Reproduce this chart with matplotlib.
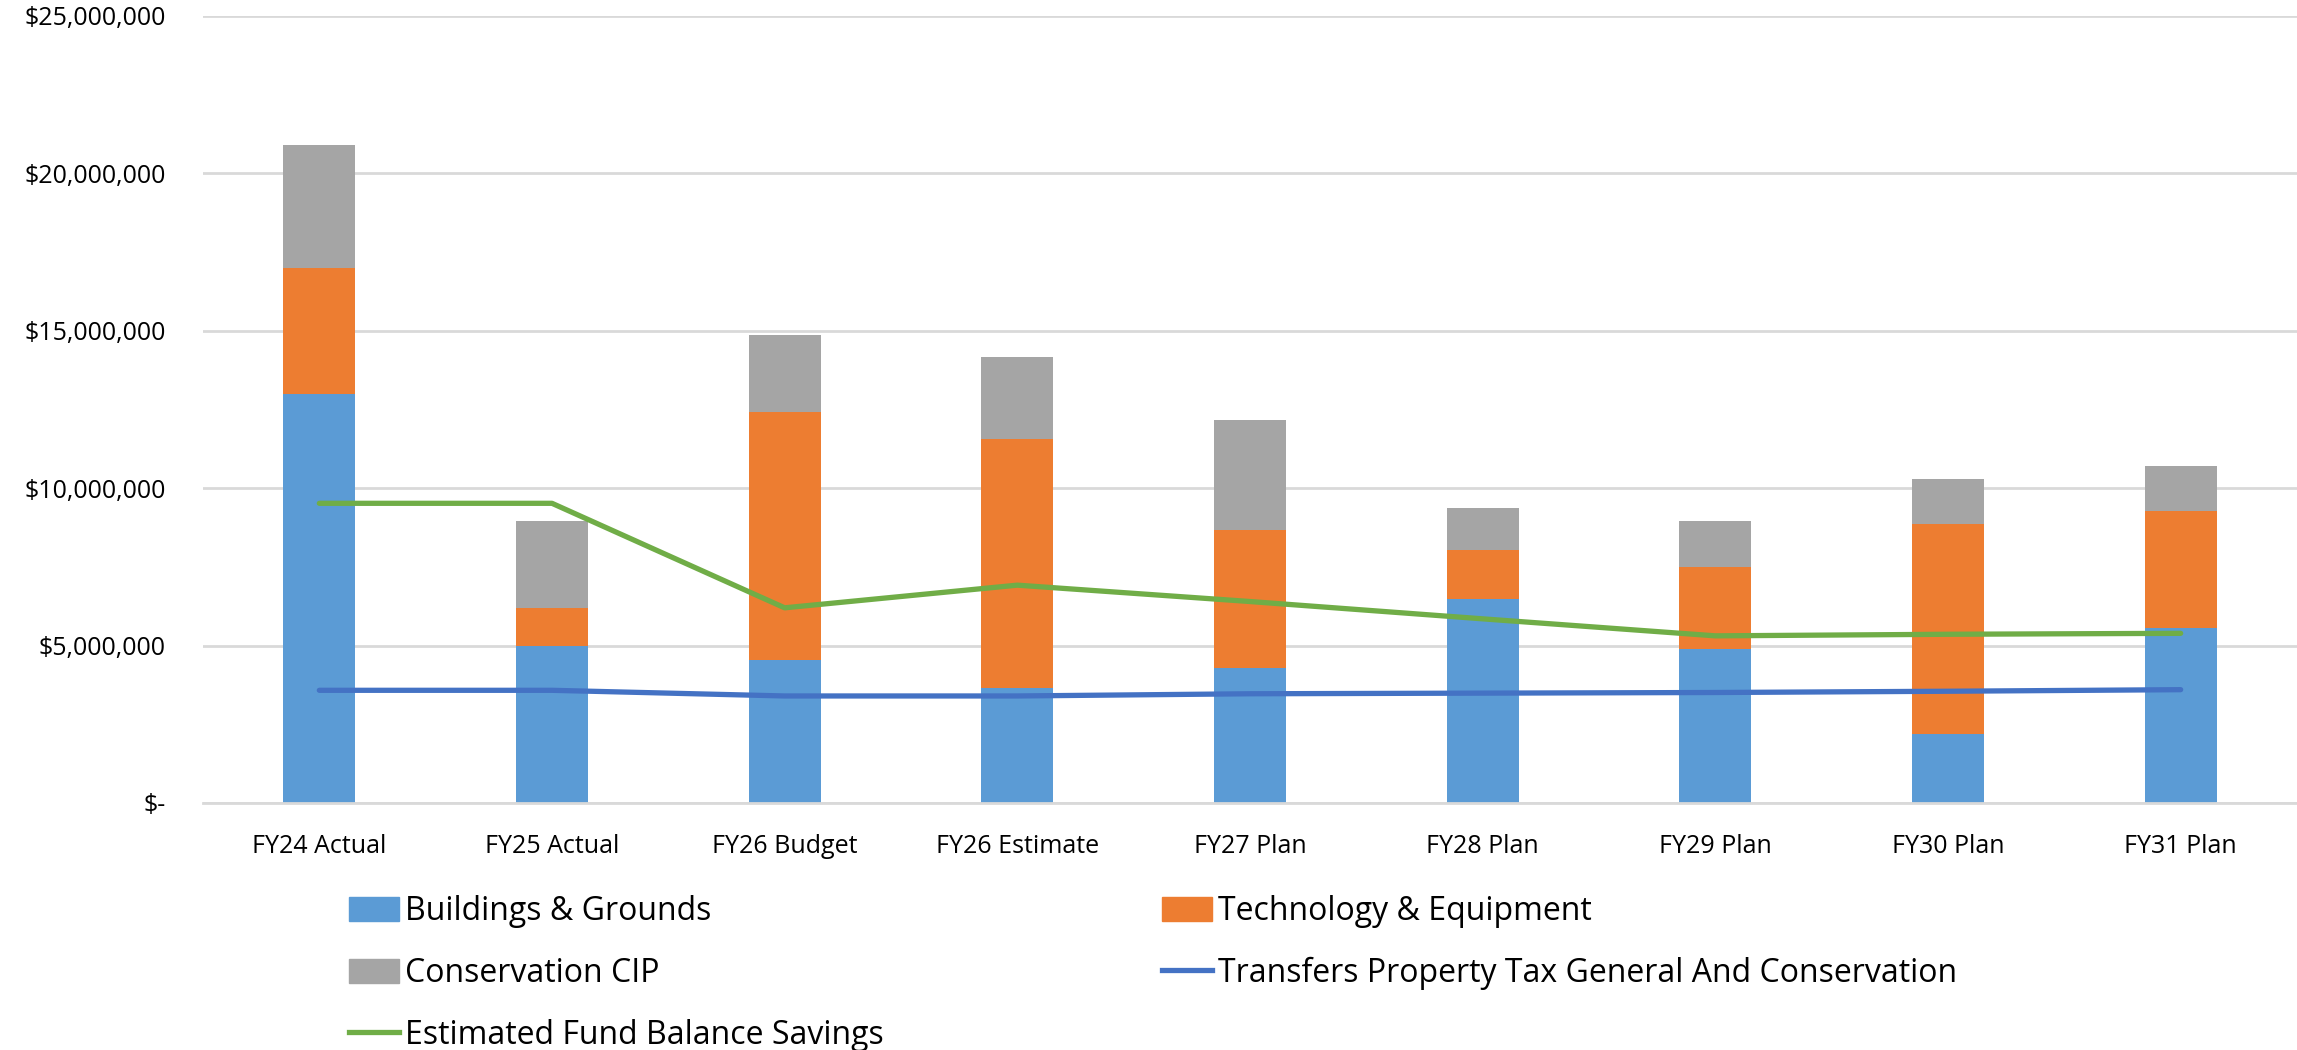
import matplotlib
matplotlib.use("Agg")
import matplotlib.pyplot as plt
import numpy as np
from matplotlib.patches import Patch
from matplotlib.lines import Line2D
from matplotlib.ticker import FuncFormatter

plt.rcParams['font.family'] = ['Open Sans', 'DejaVu Sans']

categories = ["FY24 Actual", "FY25 Actual", "FY26 Budget", "FY26 Estimate", "FY27 Plan",
              "FY28 Plan", "FY29 Plan", "FY30 Plan", "FY31 Plan"]
buildings = [13.0e6, 5.0e6, 4.54e6, 3.66e6, 4.29e6, 6.48e6, 4.89e6, 2.20e6, 5.57e6]
technology = [4.0e6, 1.18e6, 7.88e6, 7.90e6, 4.37e6, 1.57e6, 2.62e6, 6.65e6, 3.69e6]
conservation = [3.9e6, 2.77e6, 2.46e6, 2.62e6, 3.51e6, 1.32e6, 1.44e6, 1.45e6, 1.45e6]
transfers = [3.58e6, 3.58e6, 3.40e6, 3.40e6, 3.47e6, 3.49e6, 3.51e6, 3.55e6, 3.60e6]
savings = [9.52e6, 9.52e6, 6.20e6, 6.92e6, 6.40e6, 5.85e6, 5.31e6, 5.36e6, 5.39e6]
yticks = [0, 5e6, 10e6, 15e6, 20e6, 25e6]

c_blue = "#5B9BD5"
c_orange = "#ED7D31"
c_gray = "#A5A5A5"
c_line_blue = "#4472C4"
c_green = "#70AD47"
c_grid = "#D9D9D9"

W, H = 2297, 1050
fig = plt.figure(figsize=(W / 100, H / 100), dpi=100)
left = 203 / W
right = 1.0
bottom = 1 - 803 / H
top = 1 - 16 / H
ax = fig.add_axes([left, bottom, right - left, top - bottom])

x = np.arange(len(categories))
bw = 0.31
b = np.array(buildings)
t = np.array(technology)
c = np.array(conservation)
ax.bar(x, b, bw, color=c_blue, zorder=2)
ax.bar(x, t, bw, bottom=b, color=c_orange, zorder=2)
ax.bar(x, c, bw, bottom=b + t, color=c_gray, zorder=2)
ax.plot(x, transfers, color=c_line_blue, lw=3.8, solid_capstyle='round', solid_joinstyle='round', zorder=3)
ax.plot(x, savings, color=c_green, lw=3.8, solid_capstyle='round', solid_joinstyle='round', zorder=3)

ax.set_xlim(-0.5, len(categories) - 0.5)
ax.set_ylim(0, 25e6)
ax.set_yticks(yticks)


def fmt(v, pos):
    if v == 0:
        return "$-"
    return "${:,.0f}".format(v)


ax.yaxis.set_major_formatter(FuncFormatter(fmt))
ax.set_xticks(x)
ax.set_xticklabels(categories)
ax.tick_params(axis='x', length=0, labelsize=18, colors='black', pad=22)
ax.tick_params(axis='y', length=0, labelsize=18, colors='black', pad=27)
ax.yaxis.grid(True, color=c_grid, lw=2, zorder=0)
for s in ['top', 'right', 'left']:
    ax.spines[s].set_visible(False)
ax.spines['bottom'].set_color(c_grid)
ax.spines['bottom'].set_linewidth(2)

h_b = Patch(color=c_blue, label="Buildings & Grounds")
h_t = Patch(color=c_orange, label="Technology & Equipment")
h_c = Patch(color=c_gray, label="Conservation CIP")
h_tr = Line2D([], [], color=c_line_blue, lw=3.8, label="Transfers Property Tax General And Conservation")
h_s = Line2D([], [], color=c_green, lw=3.8, label="Estimated Fund Balance Savings")

fs = 23
common = dict(loc='upper left', frameon=False, fontsize=fs, handlelength=1.55, handleheight=0.78,
              handletextpad=0.2, labelspacing=0.9, borderaxespad=0, borderpad=0)
leg1 = fig.legend(handles=[h_b, h_c, h_s], bbox_to_anchor=(349 / W, 1 - 895 / H), **common)
leg2 = fig.legend(handles=[h_t, h_tr], bbox_to_anchor=(1162 / W, 1 - 895 / H), **common)

fig.savefig("out.png", dpi=100)
